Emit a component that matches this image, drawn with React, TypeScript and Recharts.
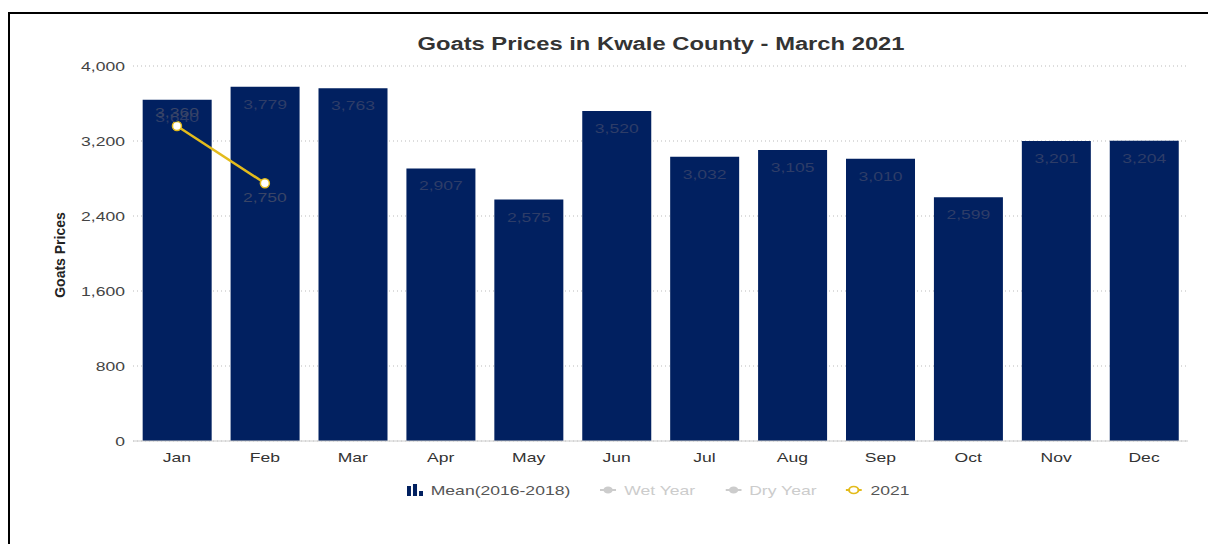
import { ComposedChart, Bar, Line, XAxis, YAxis, CartesianGrid, LabelList } from 'recharts';

const months = ['Jan', 'Feb', 'Mar', 'Apr', 'May', 'Jun', 'Jul', 'Aug', 'Sep', 'Oct', 'Nov', 'Dec'];
const meanPrices = [3640, 3779, 3763, 2907, 2575, 3520, 3032, 3105, 3010, 2599, 3201, 3204];
const prices2021: (number | null)[] = [3360, 2750, null, null, null, null, null, null, null, null, null, null];
const yTicks = [0, 800, 1600, 2400, 3200, 4000];

const data = months.map((m, i) => ({ month: m, mean: meanPrices[i], y2021: prices2021[i] }));

const fmt = (v: any) => (v == null ? '' : Number(v).toLocaleString('en-US'));
const font = '"Liberation Sans", Arial, sans-serif';
const SX = 1.35; // the reference is stretched sideways

function ScaledText({ x, y, anchor, fill, size, children }: any) {
    return (
        <text transform={`translate(${x},${y}) scale(${SX},1)`} textAnchor={anchor} fill={fill} fontSize={size} fontFamily={font}>
            {children}
        </text>
    );
}

function XTick(props: any) {
    const { x, y, payload } = props;
    return <ScaledText x={x} y={y + 13} anchor="middle" fill="#333" size={13}>{payload.value}</ScaledText>;
}

function YTick(props: any) {
    const { x, y, payload } = props;
    return <ScaledText x={x} y={y + 5} anchor="end" fill="#444" size={13}>{fmt(payload.value)}</ScaledText>;
}

function BarLabel(props: any) {
    const { x, y, width, value } = props;
    return <ScaledText x={x + width / 2} y={y + 22} anchor="middle" fill="#2e3d68" size={13}>{fmt(value)}</ScaledText>;
}

function LineLabel(props: any) {
    const { x, y, value, index } = props;
    if (value == null) return null;
    const dy = index === 0 ? -9 : 19;
    return <ScaledText x={x} y={y + dy} anchor="middle" fill="#3a4566" size={13}>{fmt(value)}</ScaledText>;
}

function ChartLegend() {
    const item = { display: 'flex', alignItems: 'center', marginRight: 22 } as const;
    return (
        <div style={{ position: 'absolute', left: 0, top: 466, width: 1296, height: 20, display: 'flex', justifyContent: 'center', alignItems: 'center', fontFamily: font, fontSize: 13, transform: `scaleX(${SX})`, transformOrigin: '648px 50%' }}>
            <div style={item}>
                <svg width={12} height={12} style={{ marginRight: 6 }}>
                    <rect x={0} y={2} width={3} height={10} fill="#012060" />
                    <rect x={4.5} y={0} width={3} height={12} fill="#012060" />
                    <rect x={9} y={7} width={3} height={5} fill="#012060" />
                </svg>
                <span style={{ color: '#555' }}>Mean(2016-2018)</span>
            </div>
            <div style={item}>
                <svg width={12} height={12} style={{ marginRight: 6 }}>
                    <line x1={0} y1={6} x2={12} y2={6} stroke="#ccc" strokeWidth={2} />
                    <circle cx={6} cy={6} r={3.5} fill="#ccc" />
                </svg>
                <span style={{ color: '#ccc' }}>Wet Year</span>
            </div>
            <div style={item}>
                <svg width={12} height={12} style={{ marginRight: 6 }}>
                    <line x1={0} y1={6} x2={12} y2={6} stroke="#ccc" strokeWidth={2} />
                    <circle cx={6} cy={6} r={3.5} fill="#ccc" />
                </svg>
                <span style={{ color: '#ccc' }}>Dry Year</span>
            </div>
            <div style={{ ...item, marginRight: 0 }}>
                <svg width={12} height={12} style={{ marginRight: 6 }}>
                    <line x1={0} y1={6} x2={12} y2={6} stroke="#e3bb1c" strokeWidth={2} />
                    <circle cx={6} cy={6} r={3.5} fill="#fff" stroke="#e3bb1c" strokeWidth={1.5} />
                </svg>
                <span style={{ color: '#555' }}>2021</span>
            </div>
        </div>
    );
}

export default function App() {
    return (
        <div style={{ position: 'relative', marginTop: 4, width: 1208, height: 530, borderTop: '2px solid #000', borderLeft: '2px solid #000', background: '#fff' }}>
            <div style={{ position: 'absolute', top: 20, left: 0, width: 1302, textAlign: 'center', fontFamily: font, fontWeight: 'bold', fontSize: 17.6, color: '#333', transform: `scaleX(${SX})`, transformOrigin: '651px 50%' }}>
                Goats Prices in Kwale County - March 2021
            </div>
            <div style={{ position: 'absolute', left: 50, top: 241, transform: 'translate(-50%, -50%) rotate(-90deg)', fontFamily: '"Liberation Sans Narrow", "Liberation Sans", Arial', fontWeight: 'bold', fontSize: 14, color: '#222', whiteSpace: 'nowrap' }}>
                Goats Prices
            </div>
            <ComposedChart width={1200} height={520} data={data} margin={{ top: 52, right: 22, bottom: 59, left: 60 }} barCategoryGap="11%">
                <CartesianGrid vertical={false} stroke="#bbb" strokeDasharray="1 3" />
                <XAxis dataKey="month" height={34} tickLine={false} stroke="#ccc" tick={<XTick />} />
                <YAxis width={63} domain={[0, 4000]} ticks={yTicks} axisLine={false} tickLine={false} tick={<YTick />} />
                <Bar dataKey="mean" name="Mean(2016-2018)" fill="#012060" isAnimationActive={false}>
                    <LabelList dataKey="mean" content={<BarLabel />} />
                </Bar>
                <Line dataKey="y2021" name="2021" stroke="#e3bb1c" strokeWidth={2.5} isAnimationActive={false}
                    dot={{ r: 4.5, fill: '#fff', stroke: '#e3bb1c', strokeWidth: 1.5 }} connectNulls={false}>
                    <LabelList dataKey="y2021" content={<LineLabel />} />
                </Line>
            </ComposedChart>
            <ChartLegend />
        </div>
    );
}
